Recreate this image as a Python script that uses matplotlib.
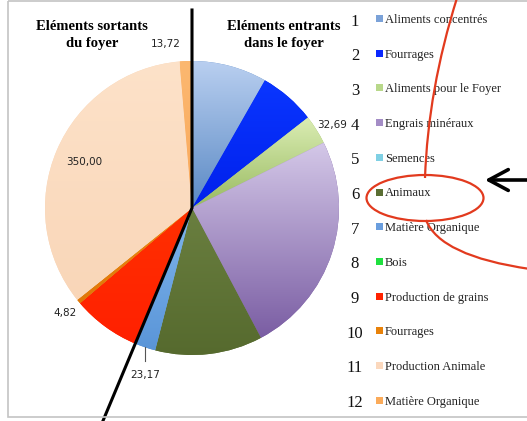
import matplotlib.pyplot as plt
import numpy as np
from matplotlib.colors import LinearSegmentedColormap
from matplotlib.patches import Rectangle, Ellipse, PathPatch
from matplotlib.path import Path

# Donnees du graphique
numeros = [str(i) for i in range(1, 13)]
postes = ['Aliments concentrés', 'Fourrages', 'Aliments pour le Foyer',
          'Engrais minéraux', 'Semences', 'Animaux', 'Matière Organique',
          'Bois', 'Production de grains', 'Fourrages', 'Production Animale',
          'Matière Organique']
valeurs = [84.0, 63.0, 32.69, 250.0, 0.0, 120.0, 23.17, 0.0, 76.0, 4.82, 350.0, 13.72]
etiquettes = {2: '32,69', 6: '23,17', 9: '4,82', 10: '350,00', 11: '13,72'}

# couleurs (haut, bas) des degrades
degrades = [('#b9cff0', '#5a89c4'), ('#0a36ff', '#0020ec'), ('#dbedb4', '#98ba60'),
            ('#d4c8e8', '#7a5da3'), ('#8fd8ea', '#4ab3cc'), ('#6a7f40', '#566a2e'),
            ('#80b6ec', '#5a95d8'), ('#30e050', '#10c030'), ('#ff3000', '#ff2000'),
            ('#ec8a14', '#e07808'), ('#fde2c9', '#f9d6b8'), ('#fcb870', '#f9a85a')]
couleurs_leg = ['#7ba2d8', '#0a28ff', '#b8d88a', '#a48dc6', '#7fd0e4', '#5a6e33',
                '#6a9ede', '#1fe03f', '#ff2200', '#e8820a', '#fbd8bd', '#fbab5a']

W, H = 527, 421
fig = plt.figure(figsize=(W / 100, H / 100), dpi=100)

# camembert
cx, cy, r = 192, 208, 147
ax = fig.add_axes([(cx - r) / W, (H - cy - r) / H, 2 * r / W, 2 * r / H])
wedges, _ = ax.pie(valeurs, startangle=90, counterclock=False, radius=1,
                   colors=[d[1] for d in degrades], wedgeprops=dict(linewidth=0))
grad = np.linspace(0, 1, 256).reshape(-1, 1)
for w, v, (c_haut, c_bas) in zip(wedges, valeurs, degrades):
    if v <= 0:
        continue
    ext = w.get_path().get_extents()
    cmap = LinearSegmentedColormap.from_list('g', [c_bas, c_haut])
    im = ax.imshow(grad, cmap=cmap, origin='lower', aspect='auto',
                   extent=(ext.x0, ext.x1, ext.y0, ext.y1), zorder=2)
    im.set_clip_path(w)
ax.set_xlim(-1, 1)
ax.set_ylim(-1, 1)
ax.set_aspect('equal')
ax.axis('off')

# etiquettes des valeurs
cum = np.cumsum(valeurs)
total = cum[-1]
for i, txt in etiquettes.items():
    mid = np.radians(360 * (cum[i] - valeurs[i] / 2) / total)
    if i == 6:
        ax.plot([np.sin(mid), np.sin(mid)], [np.cos(mid), np.cos(mid) * 1.1],
                color='#555555', lw=0.8, clip_on=False, zorder=5)
        ax.text(np.sin(mid), np.cos(mid) * 1.2, txt, ha='center', va='center',
                fontsize=7.5, color='#222222', zorder=5)
        continue
    rr = 0.8 if i == 10 else 1.12
    ha = 'right' if i == 11 else 'center'
    dx = -0.03 if i == 11 else (0.005 if i == 2 else 0)
    dy = -0.03 if i == 2 else 0
    ax.text(np.sin(mid) * rr + dx, np.cos(mid) * rr + dy, txt, ha=ha,
            va='center', fontsize=7.5, color='#222222', zorder=5)

# trait noir separant entrants / sortants
ang = np.radians(360 * cum[6] / total)
ax.plot([0, 0, 1.58 * np.sin(ang)], [(cy - 10) / r, 0, 1.58 * np.cos(ang)],
        color='black', lw=2.2, clip_on=False, zorder=6, solid_joinstyle='miter')

# calque en pixels pour cadre, legende et annotations
ov = fig.add_axes([0, 0, 1, 1])
ov.set_xlim(0, W)
ov.set_ylim(H, 0)
ov.axis('off')
ov.patch.set_alpha(0)
ov.add_patch(Rectangle((8, 0.5), 600, 416.5, fill=False, edgecolor='#c4c4c4', lw=1.2))

serif = 'Liberation Serif'
ov.text(92, 35, 'Eléments sortants\ndu foyer', ha='center', va='center', fontsize=10.5,
        fontweight='bold', family=serif, linespacing=1.4)
ov.text(284, 35, 'Eléments entrants\ndans le foyer', ha='center', va='center', fontsize=10.5,
        fontweight='bold', family=serif, linespacing=1.4)

for k, (num, lab, col) in enumerate(zip(numeros, postes, couleurs_leg)):
    y = 20 + k * 34.7
    ov.text(355, y + 1.5, num, ha='center', va='center', fontsize=12, family=serif,
            color='#111111')
    ov.add_patch(Rectangle((376, y - 5), 7, 7, facecolor=col, edgecolor='none'))
    ov.text(385, y, lab, ha='left', va='center', fontsize=9, family=serif, color='#222222')

# annotations rouges
rouge = '#e23a1e'
ov.add_patch(Ellipse((425, 198), 117, 46, fill=False, edgecolor=rouge, lw=1.6, zorder=10))
ov.add_patch(PathPatch(Path([(457, -2), (428, 90), (425, 178)],
                            [Path.MOVETO, Path.CURVE3, Path.CURVE3]),
                       fill=False, edgecolor=rouge, lw=1.6, zorder=10))
ov.add_patch(PathPatch(Path([(426, 220), (440, 256), (530, 269)],
                            [Path.MOVETO, Path.CURVE3, Path.CURVE3]),
                       fill=False, edgecolor=rouge, lw=1.6, zorder=10))

# fleche noire
ov.annotate('', xy=(485, 180), xytext=(535, 180),
            arrowprops=dict(arrowstyle='->,head_length=1.4,head_width=0.75',
                            lw=2.6, color='black', mutation_scale=10,
                            shrinkA=0, shrinkB=0), zorder=10)

plt.savefig('out.png', dpi=100)
